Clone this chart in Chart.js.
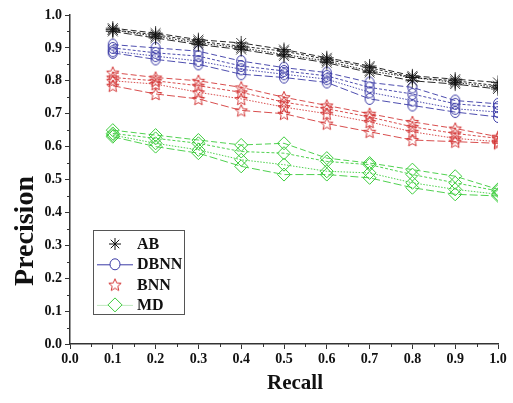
<!DOCTYPE html>
<html>
<head>
<meta charset="utf-8">
<script src="https://cdn.jsdelivr.net/npm/chart.js@4/dist/chart.umd.min.js"></script>
<style>
  html, body { margin: 0; padding: 0; background: #fff; }
  #wrap { width: 513px; height: 403px; }
</style>
</head>
<body>
<div id="wrap"><canvas id="chart" width="513" height="403"></canvas></div>
<script>
// ===== DATA =====
const recall = [0.1, 0.2, 0.3, 0.4, 0.5, 0.6, 0.7, 0.8, 0.9, 1.0];
const xTicks = ["0.0", "0.1", "0.2", "0.3", "0.4", "0.5", "0.6", "0.7", "0.8", "0.9", "1.0"];
const methods = ["AB", "DBNN", "BNN", "MD"];

// four runs per method
const ab1 = [0.960, 0.945, 0.925, 0.915, 0.895, 0.870, 0.845, 0.815, 0.805, 0.795];
const ab2 = [0.955, 0.940, 0.920, 0.905, 0.890, 0.865, 0.840, 0.810, 0.800, 0.785];
const ab3 = [0.955, 0.935, 0.915, 0.900, 0.880, 0.860, 0.830, 0.810, 0.795, 0.780];
const ab4 = [0.950, 0.930, 0.910, 0.895, 0.875, 0.855, 0.825, 0.800, 0.790, 0.775];

const db1 = [0.910, 0.900, 0.890, 0.860, 0.840, 0.825, 0.795, 0.780, 0.740, 0.730];
const db2 = [0.900, 0.885, 0.875, 0.845, 0.830, 0.815, 0.780, 0.760, 0.730, 0.720];
const db3 = [0.890, 0.875, 0.860, 0.835, 0.820, 0.805, 0.765, 0.740, 0.715, 0.705];
const db4 = [0.885, 0.865, 0.850, 0.820, 0.810, 0.795, 0.745, 0.725, 0.705, 0.690];

const bn1 = [0.825, 0.810, 0.800, 0.780, 0.750, 0.725, 0.700, 0.675, 0.655, 0.630];
const bn2 = [0.810, 0.800, 0.785, 0.765, 0.735, 0.715, 0.690, 0.660, 0.640, 0.625];
const bn3 = [0.800, 0.790, 0.765, 0.745, 0.720, 0.700, 0.675, 0.645, 0.625, 0.615];
const bn4 = [0.785, 0.760, 0.745, 0.710, 0.700, 0.670, 0.645, 0.620, 0.615, 0.610];

const md1 = [0.650, 0.635, 0.620, 0.605, 0.610, 0.565, 0.550, 0.530, 0.510, 0.470];
const md2 = [0.640, 0.625, 0.610, 0.585, 0.580, 0.555, 0.545, 0.515, 0.490, 0.465];
const md3 = [0.635, 0.610, 0.590, 0.560, 0.545, 0.525, 0.520, 0.490, 0.470, 0.455];
const md4 = [0.630, 0.600, 0.580, 0.540, 0.515, 0.515, 0.505, 0.475, 0.455, 0.450];

const seriesByMethod = [[ab1, ab2, ab3, ab4], [db1, db2, db3, db4], [bn1, bn2, bn3, bn4], [md1, md2, md3, md4]];
const colors = ["#111111", "#3a3aa6", "#d43a3a", "#3ccc3c"];
const dashes = [[6, 3], [3, 2], [1.5, 1.5], [8, 3]];

// ===== MARKER IMAGES =====
function starImage(color, r) {
  const size = Math.ceil(r * 2 + 3);
  const cv = document.createElement("canvas");
  cv.width = cv.height = size;
  const g = cv.getContext("2d");
  const c = size / 2;
  g.beginPath();
  for (let i = 0; i < 10; i++) {
    const rad = i % 2 === 0 ? r : r * 0.45;
    const a = -Math.PI / 2 + i * Math.PI / 5;
    const px = c + rad * Math.cos(a), py = c + rad * Math.sin(a) + r * 0.1;
    if (i === 0) g.moveTo(px, py); else g.lineTo(px, py);
  }
  g.closePath();
  g.strokeStyle = color;
  g.lineWidth = 1;
  g.stroke();
  return cv;
}

function ellipseImage(color, rx, ry) {
  const cv = document.createElement("canvas");
  cv.width = Math.ceil(rx * 2 + 3);
  cv.height = Math.ceil(ry * 2 + 3);
  const g = cv.getContext("2d");
  g.beginPath();
  g.ellipse(cv.width / 2, cv.height / 2, rx, ry, 0, 0, Math.PI * 2);
  g.strokeStyle = color;
  g.lineWidth = 1;
  g.stroke();
  return cv;
}

const markers = [
  { style: "star", radius: 7 },
  { style: ellipseImage(colors[1], 4.5, 5.5), radius: 6 },
  { style: starImage(colors[2], 6.5), radius: 6 },
  { style: "rectRot", radius: 6.5 }
];

// ===== DATASETS =====
const datasets = [];
seriesByMethod.forEach((runs, m) => {
  runs.forEach((vals, k) => {
    datasets.push({
      label: methods[m] + " " + (k + 1),
      data: recall.map((r, i) => ({ x: r, y: vals[i] })),
      borderColor: colors[m],
      borderWidth: 0.9,
      borderDash: dashes[k],
      pointStyle: markers[m].style,
      pointRadius: markers[m].radius,
      pointBorderColor: colors[m],
      pointBorderWidth: m === 0 ? 0.8 : 1,
      pointBackgroundColor: "rgba(0,0,0,0)",
      tension: 0
    });
  });
});

// ===== MINOR TICKS =====
const minorTicks = {
  id: "minorTicks",
  afterDraw(chart) {
    const { ctx, scales: { x, y } } = chart;
    ctx.save();
    ctx.strokeStyle = "#333";
    ctx.lineWidth = 1;
    for (let i = 0; i < 10; i++) {
      const v = 0.05 + i * 0.1;
      const px = Math.round(x.getPixelForValue(v)) + 0.5;
      ctx.beginPath(); ctx.moveTo(px, x.top); ctx.lineTo(px, x.top + 3); ctx.stroke();
      const py = Math.round(y.getPixelForValue(v)) + 0.5;
      ctx.beginPath(); ctx.moveTo(y.right, py); ctx.lineTo(y.right - 3, py); ctx.stroke();
    }
    ctx.restore();
  }
};

// ===== AXIS TITLES (placed like the original, off-centre) =====
const axisTitles = {
  id: "axisTitles",
  afterDraw(chart) {
    const { ctx } = chart;
    ctx.save();
    ctx.fillStyle = "#111";
    ctx.textAlign = "center";
    ctx.textBaseline = "middle";
    ctx.font = "bold 21px 'Liberation Serif', 'Times New Roman', serif";
    ctx.fillText("Recall", 295, 384);
    ctx.translate(26, 231);
    ctx.rotate(-Math.PI / 2);
    ctx.font = "bold 28px 'Liberation Serif', 'Times New Roman', serif";
    ctx.fillText("Precision", 0, 0);
    ctx.restore();
  }
};

// ===== LEGEND BOX =====
const legendBox = {
  id: "legendBox",
  afterDraw(chart) {
    const { ctx, chartArea } = chart;
    const left = chartArea.left + 23, top = chartArea.top + 215;
    const w = 91, h = 84;
    ctx.save();
    ctx.fillStyle = "#fff";
    ctx.fillRect(left, top, w, h);
    ctx.strokeStyle = "#555";
    ctx.lineWidth = 1;
    ctx.strokeRect(left + 0.5, top + 0.5, w, h);
    ctx.font = "bold 16px 'Liberation Serif', 'Times New Roman', serif";
    ctx.textBaseline = "middle";
    methods.forEach((name, m) => {
      const cy = top + 14 + m * 20.3;
      const cx = left + 22;
      if (m === 1 || m === 3) {
        ctx.strokeStyle = m === 1 ? colors[1] : "#bfe8bf";
        ctx.lineWidth = 1;
        ctx.beginPath(); ctx.moveTo(left + 4, cy + 0.5); ctx.lineTo(left + 40, cy + 0.5); ctx.stroke();
      }
      ctx.strokeStyle = colors[m];
      ctx.fillStyle = "#fff";
      if (m === 0) {
        const r = 6;
        ctx.beginPath();
        for (let a = 0; a < 4; a++) {
          const ang = a * Math.PI / 4;
          ctx.moveTo(cx - r * Math.cos(ang), cy - r * Math.sin(ang));
          ctx.lineTo(cx + r * Math.cos(ang), cy + r * Math.sin(ang));
        }
        ctx.stroke();
      } else if (m === 1) {
        ctx.beginPath(); ctx.ellipse(cx, cy, 5, 5.5, 0, 0, Math.PI * 2); ctx.fill(); ctx.stroke();
      } else if (m === 2) {
        const img = markers[2].style;
        ctx.drawImage(img, cx - img.width / 2, cy - img.height / 2);
      } else {
        ctx.beginPath();
        ctx.moveTo(cx, cy - 7); ctx.lineTo(cx + 7, cy); ctx.lineTo(cx, cy + 7); ctx.lineTo(cx - 7, cy);
        ctx.closePath(); ctx.fill(); ctx.stroke();
      }
      ctx.fillStyle = "#111";
      ctx.fillText(name, left + 44, cy + 1);
    });
    ctx.restore();
  }
};

Chart.defaults.font.family = "'Liberation Serif', 'Times New Roman', serif";
Chart.defaults.color = "#111";

const tickFont = { size: 14, weight: "bold" };

new Chart(document.getElementById("chart").getContext("2d"), {
  type: "line",
  data: { datasets: datasets },
  options: {
    responsive: false,
    animation: false,
    events: [],
    layout: { padding: { top: 15, right: 15, left: 0, bottom: 0 } },
    plugins: { legend: { display: false }, tooltip: { enabled: false } },
    scales: {
      x: {
        type: "linear",
        min: 0, max: 1,
        afterFit: (s) => { s.height = 59; },
        ticks: {
          stepSize: 0.1,
          font: tickFont,
          padding: 2,
          callback: (v) => xTicks[Math.round(v * 10)]
        },
        grid: { drawOnChartArea: false, tickLength: 5, color: "#333" },
        border: { color: "#333", width: 1.5 },
        title: { display: false }
      },
      y: {
        type: "linear",
        min: 0, max: 1,
        afterFit: (s) => { s.width = 70; },
        ticks: {
          stepSize: 0.1,
          font: tickFont,
          padding: 3,
          callback: (v) => v.toFixed(1)
        },
        grid: { drawOnChartArea: false, tickLength: 5, color: "#333" },
        border: { color: "#333", width: 1.5 },
        title: { display: false }
      }
    }
  },
  plugins: [minorTicks, legendBox, axisTitles]
});
</script>
</body>
</html>
